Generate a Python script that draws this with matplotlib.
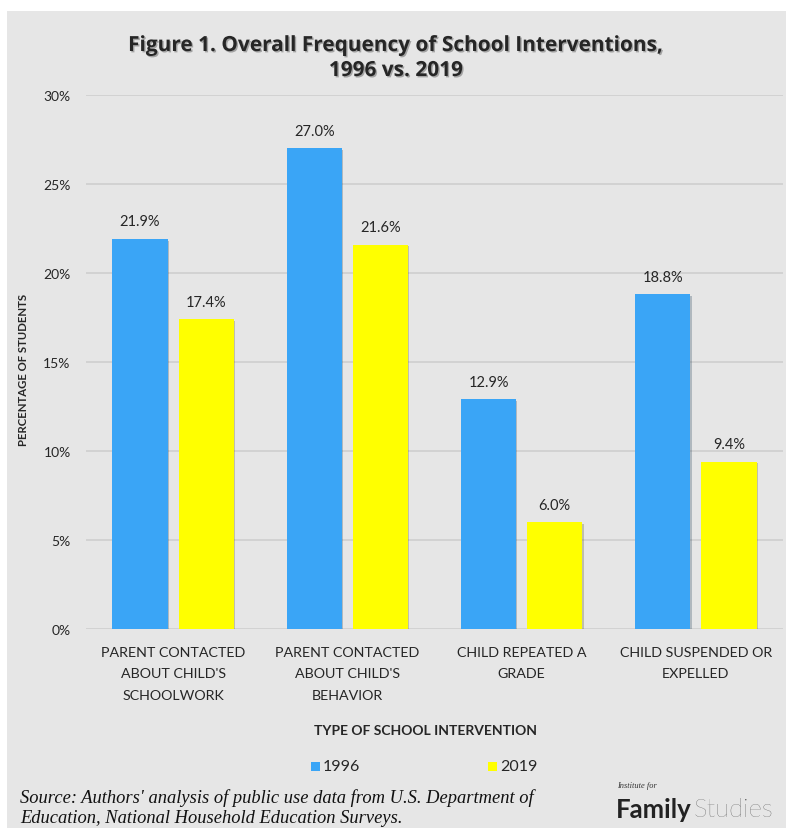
import matplotlib.pyplot as plt
import matplotlib.patheffects as pe
from matplotlib.patches import Rectangle
import numpy as np

categories = ["PARENT CONTACTED\nABOUT CHILD'S\nSCHOOLWORK",
              "PARENT CONTACTED\nABOUT CHILD'S\nBEHAVIOR",
              "CHILD REPEATED A\nGRADE",
              "CHILD SUSPENDED OR\nEXPELLED"]
vals_1996 = [21.9, 27.0, 12.9, 18.8]
vals_2019 = [17.4, 21.6, 6.0, 9.4]
series_names = ["1996", "2019"]
yticks = [0, 5, 10, 15, 20, 25, 30]

BLUE = "#3aa5f6"
YELLOW = "#ffff00"
BG = "#e6e6e6"
TXT = "#262626"
SANS = "Lato"

fig = plt.figure(figsize=(7.86, 8.29), dpi=100)
fig.patch.set_facecolor("white")
# gray panel behind everything
fig.patches.append(Rectangle((7 / 786, 0), 1, 1 - 12 / 829, transform=fig.transFigure,
                             facecolor=BG, edgecolor="none", zorder=-10))

ax = fig.add_axes([86 / 786, 1 - 630 / 829, (783 - 86) / 786, (630 - 96) / 829])
ax.set_facecolor(BG)
for s in ax.spines.values():
    s.set_visible(False)

x = np.arange(len(categories))
w = 0.316
off = 0.19
shadow = [pe.SimplePatchShadow(offset=(1, -1), alpha=0.25), pe.Normal()]
b1 = ax.bar(x - off, vals_1996, w, color=BLUE, zorder=3, path_effects=shadow)
b2 = ax.bar(x + off, vals_2019, w, color=YELLOW, zorder=3, path_effects=shadow)

for bars, vals in ((b1, vals_1996), (b2, vals_2019)):
    for r, v in zip(bars, vals):
        ax.text(r.get_x() + r.get_width() / 2, v + 0.6, f"{v:.1f}%", ha="center", va="bottom",
                fontsize=10.5, family=SANS, color=TXT)

ax.set_xlim(-0.5, len(categories) - 0.5)
ax.set_ylim(0, 30)
ax.set_yticks(yticks)
ax.set_yticklabels([f"{t}%" for t in yticks], family=SANS, fontsize=10, color=TXT)
ax.yaxis.grid(True, color="#cfcfcf", linewidth=1.2, zorder=0)
ax.tick_params(axis="y", length=0, pad=11)
ax.tick_params(axis="x", length=0, pad=12)
ax.set_xticks(x)
ax.set_xticklabels(categories, family=SANS, fontsize=10.3, color=TXT, linespacing=1.98)

fig.text(24 / 786, 1 - 370 / 829, "PERCENTAGE OF STUDENTS", rotation=90, ha="center", va="center",
         fontsize=8.2, fontweight="bold", family=SANS, color=TXT)
fig.text(425 / 786, 1 - 731 / 829, "TYPE OF SCHOOL INTERVENTION", ha="center", va="center",
         fontsize=10, fontweight="bold", family=SANS, color=TXT)

title = fig.text(396 / 786, 1 - 59 / 829, "Figure 1. Overall Frequency of School Interventions,\n1996 vs. 2019",
                 ha="center", va="center", fontsize=15, fontweight="bold", family="Open Sans",
                 color=TXT, linespacing=1.25)
title.set_path_effects([pe.SimplePatchShadow(offset=(1, -1), alpha=0.3), pe.Normal()])

# legend
for xs, col, name in ((311, BLUE, series_names[0]), (488, YELLOW, series_names[1])):
    fig.patches.append(Rectangle((xs / 786, 1 - 772 / 829), 9 / 786, 9 / 829,
                                 transform=fig.transFigure, facecolor=col, edgecolor="none"))
    fig.text((xs + 12) / 786, 1 - 767 / 829, name, ha="left", va="center",
             fontsize=11.5, family=SANS, color=TXT)

fig.text(20 / 786, 1 - 808 / 829,
         "Source: Authors' analysis of public use data from U.S. Department of\n"
         "Education, National Household Education Surveys.",
         ha="left", va="center", fontsize=13.3, style="italic", family="Liberation Serif",
         color="#111111", linespacing=1.2)

fig.text(617 / 786, 1 - 786 / 829, "Institute for", ha="left", va="center", fontsize=6,
         style="italic", family="Liberation Serif", color="#333333")
t = fig.text(616 / 786, 1 - 810 / 829, "Family", ha="left", va="center", fontsize=18.5,
             fontweight="bold", family=SANS, color="#222222")
fig.canvas.draw()
bb = t.get_window_extent()
fig.text((bb.x1 + 2) / fig.bbox.width, 1 - 810 / 829, "Studies", ha="left", va="center",
         fontsize=18.5, fontweight="light", family=SANS, color="#444444")

fig.savefig("out.png", dpi=100, facecolor=fig.get_facecolor())
